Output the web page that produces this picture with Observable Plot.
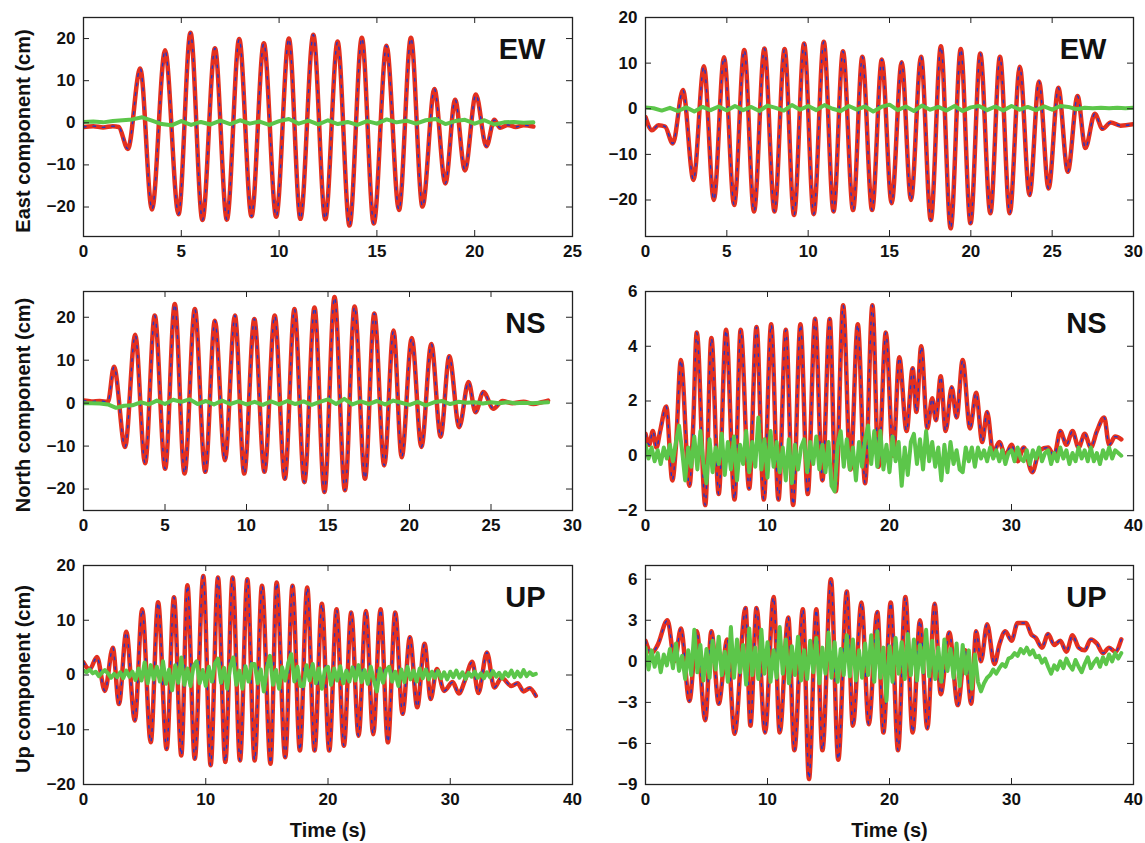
<!DOCTYPE html>
<html>
<head>
<meta charset="utf-8">
<script src="https://cdn.jsdelivr.net/npm/d3@7"></script>
<script src="https://cdn.jsdelivr.net/npm/@observablehq/plot@0.6"></script>
<style>
  html, body { margin: 0; padding: 0; background: #fff; }
  #chart { position: relative; width: 1145px; height: 843px; overflow: hidden; }
  #chart svg { position: absolute; overflow: visible; }
</style>
</head>
<body>
<div id="chart"></div>
<script>
// ---------- Panel labels / axis titles ----------
const componentLabels = ["EW", "NS", "UP"];
const yTitles = ["East component (cm)", "North component (cm)", "Up component (cm)"];
const xTitle = "Time (s)";

// ---------- Tick labels ----------
const xTicksTL = [0, 5, 10, 15, 20, 25];
const xTicksTR = [0, 5, 10, 15, 20, 25, 30];
const xTicksML = [0, 5, 10, 15, 20, 25, 30];
const xTicks40 = [0, 10, 20, 30, 40];
const yTicks20 = [-20, -10, 0, 10, 20];
const yTicksMR = [-2, 0, 2, 4, 6];
const yTicksBR = [-9, -6, -3, 0, 3, 6];

// ---------- Top-left EW: measured (red / blue) peaks & troughs ----------
const ewLeftT = [0, 0.5, 1.0, 1.5, 1.8, 2.27, 2.9, 3.5, 4.17, 4.86, 5.47, 6.08, 6.72, 7.33, 7.96, 8.59, 9.22, 9.85, 10.5, 11.09, 11.75, 12.36, 12.99, 13.6, 14.23, 14.84, 15.49, 16.13, 16.74, 17.33, 17.94, 18.5, 19.0, 19.5, 20.06, 20.6, 21.0, 21.3, 21.7, 22.1, 22.5, 23.0];
const ewLeftV = [-1.0, -0.8, -1.1, -0.8, -1.0, -6.2, 12.9, -20.6, 17.2, -21.7, 21.4, -23.1, 17.7, -23.0, 19.9, -22.2, 18.9, -22.3, 20.0, -22.8, 20.9, -22.9, 19.3, -24.4, 20.2, -23.9, 18.3, -20.7, 20.2, -19.9, 8.0, -14.4, 5.5, -11.3, 6.7, -5.6, 0.7, -1.2, -0.5, -1.0, -0.6, -0.9];
const ewLeftGreenStep = 0.5;
const ewLeftGreen = [0.2,0.3,0.1,0.4,0.6,0.8,1.3,0.5,-0.3,-0.6,0.4,-0.5,0.2,-0.4,0.5,-0.3,0.6,-0.2,0.3,-0.5,0.4,0.9,-0.2,0.5,-0.4,0.6,-0.3,0.2,-0.5,0.4,-0.2,0.8,0.1,0.5,-0.2,0.6,0.9,-0.3,0.4,0.7,-0.2,0.6,-0.4,0.1,0.2,0.0,0.1];

// ---------- Top-right EW ----------
const ewRightT = [0, 0.4, 0.8, 1.2, 1.68, 2.3, 2.95, 3.59, 4.2, 4.83, 5.45, 6.07, 6.67, 7.31, 7.93, 8.55, 9.13, 9.75, 10.34, 10.96, 11.56, 12.14, 12.76, 13.33, 13.93, 14.53, 15.13, 15.75, 16.32, 16.94, 17.54, 18.16, 18.76, 19.38, 19.98, 20.58, 21.2, 21.79, 22.39, 23.01, 23.61, 24.19, 24.78, 25.38, 25.96, 26.56, 27.04, 27.62, 28.1, 28.6, 29.2, 30];
const ewRightV = [-1.8, -4.7, -3.6, -3.9, -7.6, 4.1, -15.6, 9.3, -20.0, 11.3, -21.1, 12.9, -22.5, 13.2, -22.5, 13.1, -23.3, 14.3, -23.1, 14.7, -22.5, 12.6, -22.2, 11.4, -22.2, 10.8, -20.7, 10.2, -20.0, 11.4, -24.4, 13.7, -26.2, 13.1, -25.1, 12.1, -22.9, 11.4, -22.9, 9.2, -18.9, 6.0, -17.5, 4.6, -13.8, 2.8, -8.6, -1.1, -4.4, -3.0, -3.7, -3.4];
const ewRightGreenStep = 0.5;
const ewRightGreen = [0.3,0.1,-0.4,0.2,-0.5,0.3,-0.6,0.4,-0.3,0.5,-0.4,0.6,-0.3,0.4,-0.5,0.7,0.2,-0.4,0.8,-0.2,0.6,-0.3,0.8,0.0,-0.5,0.6,-0.2,0.5,-0.6,0.4,0.9,-0.3,0.5,-0.5,0.7,-0.2,0.4,-0.4,0.6,-0.5,0.3,0.6,-0.3,0.5,-0.4,0.6,-0.2,0.4,-0.3,0.5,-0.2,0.6,0.4,-0.1,0.2,0.1,0.2,0.1,0.2,0.1,0.2];

// ---------- Middle-left NS ----------
const nsLeftT = [0, 0.5, 1.0, 1.5, 1.87, 2.55, 3.17, 3.78, 4.37, 5.01, 5.6, 6.2, 6.83, 7.47, 8.06, 8.68, 9.29, 9.86, 10.48, 11.1, 11.73, 12.35, 12.94, 13.55, 14.17, 14.78, 15.4, 16.04, 16.63, 17.27, 17.84, 18.45, 19.02, 19.52, 20.14, 20.73, 21.34, 21.91, 22.44, 23.05, 23.62, 24.05, 24.53, 25.15, 25.7, 26.3, 27, 27.6, 28.1, 28.5];
const nsLeftV = [0.6, 0.4, 0.5, 0.3, 8.5, -10.2, 15.9, -14.0, 20.4, -15.3, 23.1, -16.4, 21.9, -16.0, 19.2, -13.3, 20.4, -16.4, 19.6, -16.0, 20.4, -17.6, 21.9, -18.4, 22.3, -20.7, 24.7, -20.3, 22.5, -17.6, 20.9, -14.5, 16.9, -12.6, 15.2, -10.2, 13.8, -7.8, 10.9, -5.6, 4.9, -2.1, 2.6, -1.3, 0.5, 0.0, 0.3, -0.2, 0.2, 0.6];
const nsLeftGreenStep = 0.5;
const nsLeftGreen = [0.0,0.0,-0.1,-0.3,-1.1,-0.6,-0.5,0.2,-0.3,0.6,-0.2,0.8,0.3,0.9,-0.2,0.5,-0.3,0.6,-0.2,0.4,-0.3,0.3,-0.4,0.4,-0.3,0.5,-0.2,0.4,-0.4,0.3,0.9,-0.2,1.0,-0.3,0.4,-0.2,0.5,-0.3,0.6,0.1,-0.4,0.3,-0.5,0.2,0.5,-0.2,0.3,0.1,0.2,-0.1,0.2,0.0,0.2,0.0,0.1,0.0,0.1,0.2];

// ---------- Middle-right NS ----------
const nsRightT = [0, 0.3, 0.6, 0.9, 1.2, 1.7, 2.2, 2.5, 2.9, 3.6, 3.9, 4.2, 4.9, 5.4, 6.0, 6.6, 7.3, 7.8, 8.5, 9.1, 9.7, 10.3, 10.9, 11.5, 12.1, 12.7, 13.3, 13.9, 14.5, 15.1, 15.6, 16.2, 16.8, 17.4, 18.0, 18.6, 19.1, 19.7, 20.3, 20.8, 21.4, 21.9, 22.2, 22.6, 23.1, 23.5, 23.8, 24.2, 24.6, 25.1, 25.5, 26.0, 26.6, 27.1, 27.6, 28.0, 28.5, 29.0, 29.5, 30.0, 30.5, 31.0, 31.7, 32.3, 33.0, 33.5, 34.0, 34.5, 35.0, 35.5, 36.0, 36.5, 37.0, 37.6, 38.0, 38.5, 39.0];
const nsRightV = [0.8, 0.4, 0.9, 0.3, 0.9, 1.8, -0.9, 0.4, 3.5, -1.1, 1.0, 4.5, -1.8, 4.3, -1.4, 4.6, -1.6, 4.6, -1.2, 4.7, -1.6, 4.8, -1.6, 4.6, -1.8, 4.8, -1.4, 5.0, -0.9, 5.0, -1.3, 5.5, -0.5, 4.8, -1.0, 5.5, -0.4, 4.5, 0.0, 3.6, 0.9, 3.2, 1.6, 4.0, 1.0, 2.1, 1.3, 2.9, 0.9, 2.5, 1.4, 3.5, 1.0, 2.3, 0.5, 1.6, 0.1, 0.5, 0.0, 0.4, -0.2, 0.3, -0.6, 0.2, 0.3, 0.0, 0.9, 0.4, 0.9, 0.3, 0.8, 0.3, 0.9, 1.4, 0.4, 0.7, 0.6];
const nsRightGreenStep = 0.25;
const nsRightGreen = [
  0.4,-0.1,0.3,-0.2, 0.2,-0.3,0.3,-0.1, 0.4,-0.2,0.5,1.1, 0.2,-0.9,0.3,-0.4, 0.7,-0.5,0.9,-0.3,
  -1.0,0.6,-0.6,0.3, -0.3,0.8,-0.7,0.5, -0.5,0.7,-0.9,0.4, -0.3,0.9,-0.6,0.5, -0.4,1.4,-0.5,0.6,
  -0.8,0.9,-0.4,0.5, -0.6,0.3,-0.9,0.6, -1.0,0.4,-0.5,0.3, 0.6,-0.6,0.5,-0.3, 0.7,-0.5,0.4,-0.6,
  0.5,-1.1,-1.3,0.4, 0.9,-0.4,0.6,-0.5, 0.3,-0.9,0.5,-0.4, 0.6,1.1,-0.3,0.9, -0.4,0.9,-0.5,0.4,
  -0.6,0.7,-0.2,0.5, -1.1,0.3,-0.7,0.5, 0.8,-0.3,0.6,-0.5, 0.9,-0.2,0.5,-0.4, 0.3,-0.9,0.4,-0.6,
  0.5,-0.3,0.2,-0.5, -0.6,0.3,-0.2,0.3, -0.4,0.3,-0.1,0.2, -0.2,0.3,-0.1,0.2, -0.2,0.2,-0.3,0.1,
  0.2,-0.2,0.3,-0.1, -0.2,0.2,-0.3,0.2, -0.1,0.3,-0.2,0.1, 0.2,-0.3,0.1,-0.2, 0.3,-0.1,0.2,-0.3,
  0.1,-0.2,0.3,-0.1, 0.2,-0.2,0.3,-0.2, 0.1,-0.3,0.2,-0.1, 0.3,-0.1,0.2,0.1, 0.0];

// ---------- Bottom-left UP ----------
const upLeftT = [0, 0.5, 1.1, 1.75, 2.4, 2.9, 3.5, 4.2, 4.8, 5.5, 6.1, 6.8, 7.4, 8.0, 8.5, 9.1, 9.8, 10.4, 11.0, 11.6, 12.2, 12.8, 13.4, 14.0, 14.6, 15.3, 15.8, 16.5, 17.1, 17.7, 18.3, 18.9, 19.5, 20.1, 20.7, 21.3, 21.9, 22.5, 23.1, 23.7, 24.3, 24.9, 25.5, 26.1, 26.7, 27.3, 27.9, 28.4, 28.9, 29.5, 30.2, 30.7, 31.2, 31.8, 32.3, 33.0, 33.6, 34.2, 35.0, 35.5, 36.0, 36.5, 37.0];
const upLeftV = [2.3, 1.0, 3.3, -2.9, 5.0, -5.3, 7.9, -8.3, 12.0, -12.3, 13.3, -13.5, 14.2, -14.7, 16.4, -15.3, 18.1, -16.5, 17.8, -15.9, 17.8, -15.6, 17.5, -15.6, 16.3, -16.2, 16.9, -15.0, 16.3, -13.8, 16.0, -13.8, 13.0, -13.8, 12.0, -12.9, 11.4, -11.1, 11.7, -10.8, 12.0, -12.3, 11.4, -7.1, 6.9, -5.9, 5.7, -4.4, 1.1, -2.9, -1.3, -3.4, -1.0, 2.4, -3.3, 4.1, -2.3, -0.5, -2.0, -1.5, -3.0, -2.4, -3.8];
const upLeftGreenStep = 0.25;
const upLeftGreen = [
  0.8,0.5,1.0,0.3, 0.6,-0.2,0.4,0.9, 0.3,-0.5,0.2,-0.4, 0.5,-0.6,0.8,-0.3, 0.6,-0.9,1.2,-1.0,
  2.3,-1.5,1.8,-0.8, 1.5,-1.2,2.5,-1.6, 1.0,-2.8,1.8,-1.4, 3.2,-1.8,1.2,-2.0, 1.6,2.5,-1.5,0.9,
  -2.0,1.5,-1.2,2.1, 3.0,-1.4,1.3,-2.5, 1.5,3.2,-1.8,0.8, -2.5,1.6,-1.2,2.0, 2.0,-1.5,1.0,-3.0,
  1.2,3.5,-1.8,0.9, -2.5,1.4,-1.0,2.2, 3.8,-1.2,1.5,-2.0, -2.0,1.8,-1.0,2.0, -1.5,1.2,-2.5,1.0,
  1.5,-1.8,1.2,-1.0, 1.6,-1.5,0.8,-1.2, 1.4,-1.0,1.8,-1.3, 0.9,-1.6,1.5,-1.0, -3.0,1.2,-1.4,0.8,
  1.5,-1.2,0.6,-2.0, 1.0,-1.3,1.5,-0.8, 0.8,-1.2,1.2,-0.6, 1.0,-0.8,0.6,-0.5, 0.7,-0.6,0.5,-0.8,
  0.6,-0.4,0.8,-0.5, 0.5,-0.7,0.4,-0.3, 0.6,-0.5,0.3,-0.6, 0.5,-0.4,0.7,-0.3, 0.4,-0.6,0.5,-0.2,
  0.8,-0.4,0.6,-0.3, 0.9,-0.2,0.5,0.0, 0.2];

// ---------- Bottom-right UP ----------
const upRightT = [0, 0.5, 1.0, 1.8, 2.4, 2.9, 3.6, 4.2, 4.9, 5.4, 6.0, 6.7, 7.3, 8.2, 8.6, 9.1, 9.8, 10.5, 11.0, 11.7, 12.2, 12.9, 13.4, 14.0, 14.5, 15.2, 15.8, 16.5, 17.0, 17.7, 18.3, 19.0, 19.5, 20.1, 20.7, 21.3, 21.9, 22.5, 23.1, 23.7, 24.2, 24.9, 25.6, 26.2, 26.7, 27.1, 27.5, 28.0, 28.6, 29.0, 29.5, 30.0, 30.5, 31.2, 31.6, 32.0, 32.5, 33.0, 33.5, 34.0, 34.5, 35.0, 35.5, 36.0, 36.5, 37.0, 37.5, 38.0, 38.5, 39.0];
const upRightV = [1.5, 0.6, 1.2, 3.0, 0.0, 2.4, -2.9, 2.2, -4.3, 2.2, -3.1, 1.6, -5.3, 3.9, -4.7, 3.9, -5.2, 4.7, -5.2, 3.2, -6.5, 3.8, -8.6, 3.8, -6.5, 6.0, -7.2, 5.1, -4.7, 4.3, -4.6, 3.6, -5.2, 4.3, -6.5, 4.7, -5.2, 3.0, -4.9, 4.2, -2.4, 2.1, -3.2, 0.8, -3.1, 2.2, 0.0, 2.7, -0.2, 1.2, 2.2, 1.5, 2.8, 2.8, 2.0, 1.7, 1.0, 2.0, 1.2, 1.5, 0.7, 1.9, 1.0, 0.8, 1.6, 1.3, 0.6, 1.0, 0.7, 1.6];
const upRightGreenStep = 0.25;
const upRightGreen = [
  1.0,-0.6,0.8,-0.4, 0.6,-0.8,0.5,-0.3, 0.9,-0.5,1.3,-0.7, 0.4,-1.3,0.8,-1.0, 2.3,-0.8,1.2,-1.4,
  0.9,-1.2,1.5,-0.6, 1.8,-1.0,0.7,-1.5, 2.5,-1.2,1.6,-0.8, 1.2,-1.7,2.4,-1.0, 1.0,-1.3,2.3,-0.9,
  1.4,-1.5,0.8,-1.2, 2.5,-0.9,1.6,-1.6, 1.1,-1.0,1.8,-1.4, 0.8,-1.3,1.5,-0.8, 1.7,-1.6,1.0,-0.9,
  2.1,-1.2,1.4,-1.5, 0.9,-1.0,1.9,-1.1, 1.6,-1.4,0.8,-1.2, 1.3,-1.0,1.9,-1.5, 2.2,-1.2,1.0,-2.9,
  1.1,-1.5,1.7,-0.9, 1.4,-1.3,2.0,-1.0, 1.6,-1.4,1.2,-0.8, 2.3,-1.1,1.5,-1.3, 1.0,-1.5,1.6,-0.7,
  0.9,-1.2,1.3,-1.8, 1.2,-0.9,0.8,-2.0, 0.5,-1.5,-2.2,-1.6, -1.2,-1.0,-0.6,-0.9, -0.5,-0.2,-0.4,0.2,
  0.3,0.6,0.4,0.9, 0.6,1.0,0.5,0.8, 0.3,0.4,-0.1,0.2, -0.4,-0.9,-0.3,-0.6, 0.0,-0.5,0.2,-0.3,
  -0.6,0.1,-0.4,-0.8, -0.2,0.3,-0.5,-0.1, 0.2,-0.4,0.3,-0.2, 0.5,0.0,0.6,0.2, 0.6];

// ---------- Colours ----------
const RED = "#e3301f";
const BLUE = "#2236c8";
const GREEN = "#5cc64a";

// ---------- Build panels ----------
function pairs(T, V) { return T.map((t, i) => ({t, v: V[i]})); }
function series(step, V) { return V.map((v, i) => ({t: i * step, v})); }

function panel(cfg) {
  const frameW = cfg.frameW, frameH = 219;
  const red = pairs(cfg.T, cfg.V);
  const green = series(cfg.gStep, cfg.G);
  const marks = [
    Plot.lineY(red, {x: "t", y: "v", stroke: RED, strokeWidth: 4.5, curve: "monotone-x", clip: true, strokeLinejoin: "round"}),
    Plot.lineY(red, {x: "t", y: "v", stroke: BLUE, strokeWidth: 1.4, strokeDasharray: "2.5,7", curve: "monotone-x", clip: true}),
    Plot.lineY(green, {x: "t", y: "v", stroke: GREEN, strokeWidth: 4, clip: true, strokeLinejoin: "round"}),
    Plot.frame({stroke: "#222", strokeWidth: 1.3}),
    Plot.ruleY(cfg.yTicks, {y: d => d, insetRight: frameW - 6, stroke: "#222"}),
    Plot.ruleY(cfg.yTicks, {y: d => d, insetLeft: frameW - 6, stroke: "#222"}),
    Plot.ruleX(cfg.xTicks, {x: d => d, insetTop: frameH - 6, stroke: "#222"}),
    Plot.ruleX(cfg.xTicks, {x: d => d, insetBottom: frameH - 6, stroke: "#222"}),
    Plot.axisX({ticks: cfg.xTicks, tickSize: 0, tickPadding: 8, label: null, tickFormat: d => String(d)}),
    Plot.axisY({ticks: cfg.yTicks, tickSize: 0, tickPadding: 8, label: null}),
    Plot.text([cfg.label], {text: d => d, frameAnchor: "top-right", textAnchor: "end", lineAnchor: "middle", dx: -27, dy: 32, fontSize: 29, fontWeight: "bold", fill: "#111"})
  ];
  if (cfg.yTitle) marks.push(Plot.text([cfg.yTitle], {text: d => d, frameAnchor: "left", rotate: -90, textAnchor: "middle", lineAnchor: "middle", dx: -60, dy: 4, fontSize: 20, fontWeight: "bold", fill: "#111"}));
  if (cfg.xTitle) marks.push(Plot.text([cfg.xTitle], {text: d => d, frameAnchor: "bottom", textAnchor: "middle", lineAnchor: "middle", dy: 46, fontSize: 20, fontWeight: "bold", fill: "#111"}));

  const svg = Plot.plot({
    width: cfg.marginLeft + frameW + 12,
    height: 12 + frameH + cfg.marginBottom,
    marginLeft: cfg.marginLeft, marginRight: 12, marginTop: 12, marginBottom: cfg.marginBottom,
    x: {domain: cfg.xDomain},
    y: {domain: cfg.yDomain},
    style: {fontFamily: "'Liberation Sans', Arial, Helvetica, sans-serif", fontSize: "17px", fontWeight: "bold", color: "#111", background: "transparent", overflow: "visible"},
    marks
  });
  svg.style.left = cfg.left + "px";
  svg.style.top = cfg.top + "px";
  document.getElementById("chart").appendChild(svg);
}

const L = {left: 3, marginLeft: 80, frameW: 489};
const R = {left: 595, marginLeft: 50, frameW: 488};

panel({...L, top: 5, marginBottom: 30, xDomain: [0, 25], yDomain: [-27, 25], xTicks: xTicksTL, yTicks: yTicks20,
  T: ewLeftT, V: ewLeftV, gStep: ewLeftGreenStep, G: ewLeftGreen, label: componentLabels[0], yTitle: yTitles[0]});
panel({...R, top: 5, marginBottom: 30, xDomain: [0, 30], yDomain: [-28, 20], xTicks: xTicksTR, yTicks: yTicks20,
  T: ewRightT, V: ewRightV, gStep: ewRightGreenStep, G: ewRightGreen, label: componentLabels[0]});
panel({...L, top: 279, marginBottom: 30, xDomain: [0, 30], yDomain: [-25, 26], xTicks: xTicksML, yTicks: yTicks20,
  T: nsLeftT, V: nsLeftV, gStep: nsLeftGreenStep, G: nsLeftGreen, label: componentLabels[1], yTitle: yTitles[1]});
panel({...R, top: 279, marginBottom: 30, xDomain: [0, 40], yDomain: [-2, 6], xTicks: xTicks40, yTicks: yTicksMR,
  T: nsRightT, V: nsRightV, gStep: nsRightGreenStep, G: nsRightGreen, label: componentLabels[1]});
panel({...L, top: 553, marginBottom: 58, xDomain: [0, 40], yDomain: [-20, 20], xTicks: xTicks40, yTicks: yTicks20,
  T: upLeftT, V: upLeftV, gStep: upLeftGreenStep, G: upLeftGreen, label: componentLabels[2], yTitle: yTitles[2], xTitle});
panel({...R, top: 553, marginBottom: 58, xDomain: [0, 40], yDomain: [-9, 7], xTicks: xTicks40, yTicks: yTicksBR,
  T: upRightT, V: upRightV, gStep: upRightGreenStep, G: upRightGreen, label: componentLabels[2], xTitle});
</script>
</body>
</html>
